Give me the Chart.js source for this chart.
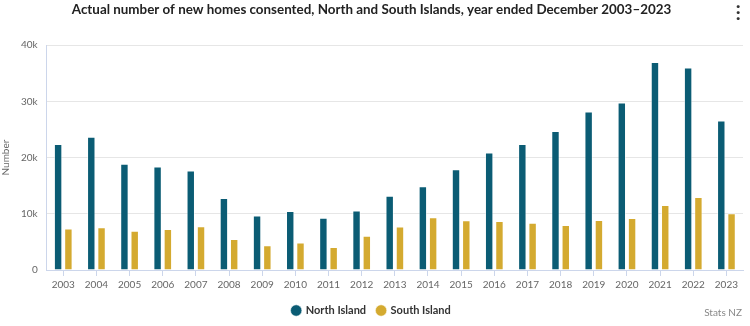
<!DOCTYPE html>
<html>
<head>
<meta charset="utf-8">
<script src="https://cdn.jsdelivr.net/npm/chart.js@4"></script>
<style>
  html, body { margin: 0; padding: 0; background: #fff; }
  #wrap { position: relative; width: 750px; height: 326px; font-family: Lato, "Open Sans", sans-serif; }
  #menu { position: absolute; left: 736px; top: 2px; font-size: 16px; font-weight: bold; color: #333; line-height: 6px; }
  #credit { position: absolute; right: 8px; top: 306px; font-size: 10px; color: #888; }
</style>
</head>
<body>
<div id="wrap">
  <canvas id="chart" width="750" height="326"></canvas>
  <div id="menu">·<br>·<br>·</div>
  <div id="credit">Stats NZ</div>
</div>
<script>
const years = ['2003','2004','2005','2006','2007','2008','2009','2010','2011','2012','2013',
  '2014','2015','2016','2017','2018','2019','2020','2021','2022','2023'];
const northIsland = [22400, 23700, 18900, 18400, 17700, 12800, 9700, 10500, 9300, 10600, 13200,
  14900, 17900, 20900, 22400, 24700, 28200, 29800, 37000, 36000, 26600];
const southIsland = [7400, 7600, 7000, 7300, 7800, 5500, 4400, 4900, 4100, 6100, 7750,
  9400, 8850, 8700, 8400, 8000, 8900, 9250, 11550, 13000, 10100];
const yTicks = [0, 10000, 20000, 30000, 40000];

const ctx = document.getElementById('chart').getContext('2d');
new Chart(ctx, {
  type: 'bar',
  data: {
    labels: years,
    datasets: [
      {
        label: 'North Island',
        data: northIsland,
        backgroundColor: '#0b5c74',
        borderColor: 'rgba(255,255,255,0.5)',
        borderWidth: 1,
        categoryPercentage: 0.62,
        barPercentage: 0.82
      },
      {
        label: 'South Island',
        data: southIsland,
        backgroundColor: '#d4aa30',
        borderColor: 'rgba(255,255,255,0.5)',
        borderWidth: 1,
        categoryPercentage: 0.62,
        barPercentage: 0.82
      }
    ]
  },
  options: {
    responsive: false,
    animation: false,
    layout: { padding: { left: 0, right: 7, top: 0, bottom: 0 } },
    plugins: {
      title: {
        display: true,
        text: 'Actual number of new homes consented, North and South Islands, year ended December 2003–2023',
        color: '#222',
        font: { family: 'Lato', size: 13.4, weight: 'bold' },
        padding: { top: 2, bottom: 27 }
      },
      legend: {
        position: 'bottom',
        labels: {
          usePointStyle: true,
          pointStyle: 'circle',
          boxWidth: 8,
          boxHeight: 8,
          padding: 11,
          color: '#333',
          font: { family: 'Lato', size: 11, weight: 'bold' }
        }
      },
      tooltip: { enabled: false }
    },
    scales: {
      x: {
        grid: {
          offset: false,
          drawOnChartArea: false,
          drawTicks: true,
          tickLength: 6,
          color: '#ccd6eb'
        },
        border: { color: '#ccd6eb' },
        ticks: { color: '#666', font: { family: 'Lato', size: 10 }, maxRotation: 0, padding: 3 }
      },
      y: {
        min: 0,
        max: 40000,
        afterBuildTicks: axis => { axis.ticks = yTicks.map(v => ({ value: v })); },
        grid: { color: '#e6e6e6', drawTicks: false },
        border: { color: '#ccd6eb' },
        ticks: {
          color: '#666',
          padding: 9,
          font: { family: 'Lato', size: 10 },
          callback: v => v === 0 ? '0' : (v / 1000) + 'k'
        },
        title: {
          display: true,
          text: 'Number',
          color: '#666',
          font: { family: 'Lato', size: 10 },
          padding: { top: 0, bottom: 0 }
        }
      }
    }
  }
});
</script>
</body>
</html>
